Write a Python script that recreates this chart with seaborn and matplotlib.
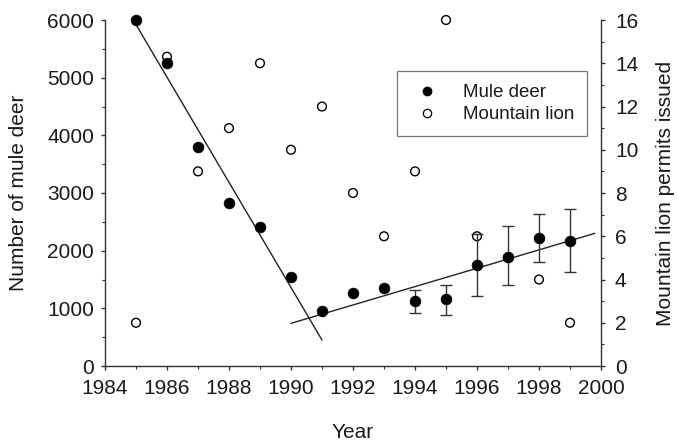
import numpy as np
import pandas as pd
import matplotlib
matplotlib.use("Agg")
import matplotlib.pyplot as plt
from matplotlib.ticker import MultipleLocator
from matplotlib.lines import Line2D
import seaborn as sns

# ---- data ----
deer_years = [1985, 1986, 1987, 1988, 1989, 1990, 1991, 1992, 1993, 1994, 1995, 1996, 1997, 1998, 1999]
deer_counts = [6000, 5260, 3790, 2825, 2418, 1540, 955, 1262, 1349, 1134, 1157, 1753, 1898, 2228, 2176]

err_years = [1994, 1995, 1996, 1997, 1998, 1999]
err_low = [925, 885, 1215, 1406, 1811, 1626]
err_high = [1319, 1406, 2286, 2430, 2633, 2720]

lion_years = [1985, 1986, 1987, 1988, 1989, 1990, 1991, 1992, 1993, 1994, 1995, 1996, 1997, 1998, 1999]
lion_permits = [2, 14.3, 9, 11, 14, 10, 12, 8, 6, 9, 16, 6, 5, 4, 2]

fit1_x = [1985, 1991]
fit1_y = [5920, 450]
fit2_x = [1990, 1999.8]
fit2_y = [740, 2300]

sns.set_style("ticks")
plt.rcParams['font.family'] = ['Liberation Sans', 'DejaVu Sans']

fig = plt.figure(figsize=(6.77, 4.43), dpi=100)
ax = fig.add_axes([105/677, 1-366/443, (601-105)/677, (366-20)/443])
ax2 = ax.twinx()

spine_col = '#333333'
txt_col = '#1a1a1a'

deer_df = pd.DataFrame({'Year': deer_years, 'Deer': deer_counts})
lion_df = pd.DataFrame({'Year': lion_years, 'Permits': lion_permits})

# mountain lion on twin axis (below)
sns.scatterplot(data=lion_df, x='Year', y='Permits', ax=ax2, marker='o', s=40,
                facecolor='none', edgecolor='black', linewidth=1.0, zorder=2, legend=False, clip_on=False)

# regression lines
sns.lineplot(x=fit1_x, y=fit1_y, ax=ax, color='#222222', linewidth=1.0, zorder=2, legend=False)
sns.lineplot(x=fit2_x, y=fit2_y, ax=ax, color='#222222', linewidth=1.0, zorder=2, legend=False)

# error bars
mid = [deer_counts[deer_years.index(y)] for y in err_years]
yerr = np.array([[m - lo for m, lo in zip(mid, err_low)], [hi - m for m, hi in zip(mid, err_high)]])
ax.errorbar(err_years, mid, yerr=yerr, fmt='none', ecolor='#333333', elinewidth=1.0,
            capsize=4, capthick=1.0, zorder=3)

sns.scatterplot(data=deer_df, x='Year', y='Deer', ax=ax, marker='o', s=60,
                color='black', edgecolor='black', linewidth=0.5, zorder=4, legend=False, clip_on=False)

ax.set_zorder(ax2.get_zorder() + 1)
ax.patch.set_visible(False)

ax.set_xlim(1984, 2000)
ax.set_ylim(0, 6000)
ax2.set_ylim(0, 16)
ax.xaxis.set_major_locator(MultipleLocator(2))
ax.xaxis.set_minor_locator(MultipleLocator(1))
ax.yaxis.set_major_locator(MultipleLocator(1000))
ax.yaxis.set_minor_locator(MultipleLocator(500))
ax2.yaxis.set_major_locator(MultipleLocator(2))
ax2.yaxis.set_minor_locator(MultipleLocator(1))

for a in (ax, ax2):
    a.spines['top'].set_visible(False)
    for s in ('left', 'right', 'bottom'):
        a.spines[s].set_color(spine_col)
        a.spines[s].set_linewidth(1.0)
    a.tick_params(which='major', length=3, width=1.0, color=spine_col, labelsize=15, labelcolor=txt_col, pad=5)
    a.tick_params(which='minor', length=2, width=0.8, color=spine_col)
ax.tick_params(axis='x', which='major', pad=6)
ax2.tick_params(axis='y', which='major', pad=7)
ax.spines['right'].set_visible(False)
ax2.spines['left'].set_visible(False)
ax2.spines['bottom'].set_visible(False)
ax2.spines['right'].set_visible(True)

ax.set_xlabel('Year', fontsize=15, color=txt_col)
ax.set_ylabel('Number of mule deer', fontsize=15, color=txt_col)
ax2.set_ylabel('Mountain lion permits issued', fontsize=15, color=txt_col)
ax.xaxis.set_label_coords(0.5, (366-423)/346)
ax.yaxis.set_label_coords((28-105)/496, 0.5)
ax2.yaxis.set_label_coords((656-105)/496, 0.5)

handles = [Line2D([], [], linestyle='none', marker='o', markersize=6, markerfacecolor='black', markeredgecolor='black'),
           Line2D([], [], linestyle='none', marker='o', markersize=6, markerfacecolor='none', markeredgecolor='black', markeredgewidth=0.9)]
leg = ax.legend(handles, ['Mule deer', 'Mountain lion'], loc='upper left',
                bbox_to_anchor=((397-105)/496, 1-(71-20)/346), frameon=True, fancybox=False,
                fontsize=13.5, borderpad=0.7, handletextpad=1.0, labelspacing=0.25, borderaxespad=0,
                handlelength=1.8)
leg.get_frame().set_edgecolor('#555555')
leg.get_frame().set_linewidth(0.9)
for t in leg.get_texts():
    t.set_color(txt_col)

fig.savefig('out.png', dpi=100)
